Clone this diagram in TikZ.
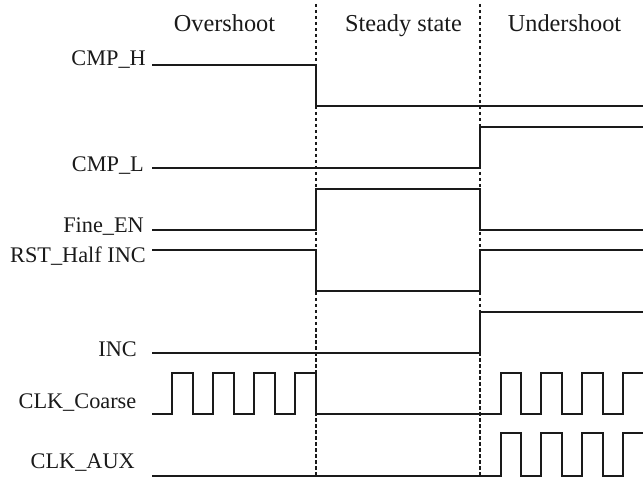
\documentclass[tikz,border=0pt]{standalone}
\usepackage{fontspec}
\setmainfont{Liberation Serif}
\definecolor{ink}{HTML}{1A1A1A}
\begin{document}
\begin{tikzpicture}[x=1pt,y=-1pt,
  sig/.style={draw=ink,line width=2.4pt,line join=miter},
  divider/.style={draw=ink,line width=2.5pt,dash pattern=on 3.5pt off 2.5pt},
  lbl/.style={anchor=base east,inner sep=0pt,text=ink,font=\fontsize{22.3}{26}\selectfont},
  ttl/.style={anchor=base,inner sep=0pt,text=ink,font=\fontsize{24.3}{28}\selectfont}]
\useasboundingbox (0,0) rectangle (643,481);
% titles
\node[ttl] (tover) at (224.5,32) {Overshoot};
\node[ttl] (tsteady) at (403.5,32) {Steady state};
\node[ttl] (tunder) at (564.5,32) {Undershoot};
% dividers
\coordinate (d1t) at (316,4); \coordinate (d1b) at (316,476);
\coordinate (d2t) at (480,4); \coordinate (d2b) at (480,476);
\draw[divider] (d1t) -- (d1b);
\draw[divider] (d2t) -- (d2b);
% labels
\node[lbl] (lcmph) at (146,66) {CMP\_H};
\node[lbl] (lcmpl) at (144,171.5) {CMP\_L};
\node[lbl] (lfine) at (144,233) {Fine\_EN};
\node[lbl] (lrst) at (146,263) {RST\_Half INC};
\node[lbl] (linc) at (137,356) {INC};
\node[lbl] (lclkc) at (136.5,408) {CLK\_Coarse};
\node[lbl] (lclka) at (135,468) {CLK\_AUX};
% signals
\draw[sig] (152,65) -- (316,65) -- (316,106) -- (643,106);
\draw[sig] (152,168) -- (480,168) -- (480,127) -- (643,127);
\draw[sig] (152,230) -- (316,230) -- (316,189) -- (480,189) -- (480,230) -- (643,230);
\draw[sig] (152,250) -- (316,250) -- (316,291) -- (480,291) -- (480,250) -- (643,250);
\draw[sig] (152,353) -- (480,353) -- (480,312) -- (643,312);
% CLK_Coarse
\def\hi{373}\def\lo{414}
\draw[sig] (152,\lo) -- (172,\lo) -- (172,\hi) -- (193,\hi) -- (193,\lo)
  -- (213,\lo) -- (213,\hi) -- (234,\hi) -- (234,\lo)
  -- (254,\lo) -- (254,\hi) -- (275,\hi) -- (275,\lo)
  -- (295,\lo) -- (295,\hi) -- (316,\hi) -- (316,\lo)
  -- (501,\lo) -- (501,\hi) -- (521,\hi) -- (521,\lo)
  -- (541,\lo) -- (541,\hi) -- (562,\hi) -- (562,\lo)
  -- (582,\lo) -- (582,\hi) -- (603,\hi) -- (603,\lo)
  -- (623,\lo) -- (623,\hi) -- (643,\hi);
% CLK_AUX
\def\ahi{433}\def\alo{476}
\draw[sig] (152,\alo) -- (501,\alo) -- (501,\ahi) -- (521,\ahi) -- (521,\alo)
  -- (541,\alo) -- (541,\ahi) -- (562,\ahi) -- (562,\alo)
  -- (582,\alo) -- (582,\ahi) -- (603,\ahi) -- (603,\alo)
  -- (623,\alo) -- (623,\ahi) -- (643,\ahi);
\end{tikzpicture}
\end{document}
